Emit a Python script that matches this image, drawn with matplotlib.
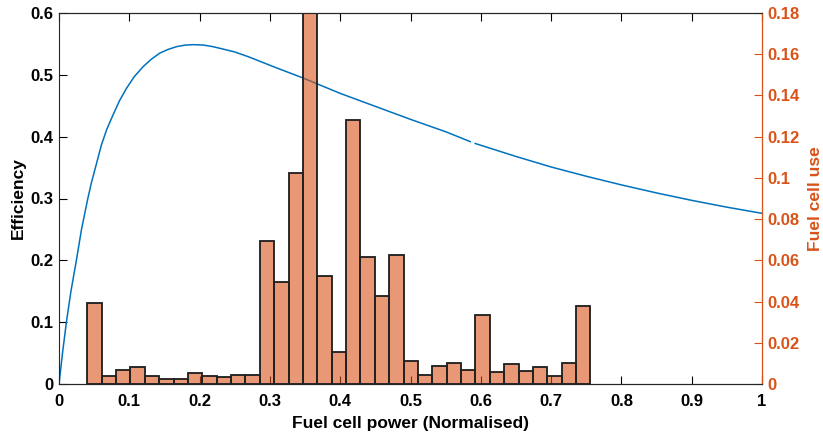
import numpy as np
import matplotlib
matplotlib.use("Agg")
import matplotlib.pyplot as plt

plt.rcParams['font.family'] = ['Liberation Sans', 'DejaVu Sans']
plt.rcParams['font.weight'] = 'bold'

# Efficiency curve
eff_x = [0, 0.005, 0.0105, 0.017, 0.0247, 0.032, 0.041, 0.046, 0.053, 0.0603,
         0.068, 0.0768, 0.086, 0.0959, 0.107, 0.1195, 0.131, 0.1432, 0.155, 0.167,
         0.179, 0.1906, 0.205, 0.217, 0.2286, 0.25, 0.27, 0.29, 0.31, 0.346, 0.40,
         0.45, 0.50, 0.55, 0.585, np.nan, 0.592, 0.65, 0.70, 0.75, 0.80, 0.85,
         0.90, 0.95, 1.00]
eff_y = [0, 0.05, 0.10, 0.15, 0.20, 0.25, 0.30, 0.325, 0.355, 0.3865,
         0.412, 0.435, 0.458, 0.478, 0.497, 0.513, 0.525, 0.535, 0.541, 0.5455,
         0.548, 0.5488, 0.5482, 0.546, 0.543, 0.537, 0.529, 0.520, 0.511, 0.4954, 0.470,
         0.449, 0.428, 0.408, 0.392, np.nan, 0.389, 0.368, 0.351, 0.336, 0.322, 0.309,
         0.297, 0.286, 0.276]

# Fuel cell use histogram
bin_first = 0.0403
bin_last = 0.756
n_bins = 35
use = [0.0393, 0.0040, 0.0068, 0.0084, 0.0040, 0.0026, 0.0025, 0.0055, 0.0040,
       0.0035, 0.0042, 0.0042, 0.0692, 0.0495, 0.1022, 0.19, 0.0526, 0.0155,
       0.1280, 0.0618, 0.0425, 0.0624, 0.0113, 0.0042, 0.0085, 0.0103, 0.0066,
       0.0336, 0.0057, 0.0097, 0.0062, 0.0084, 0.0037, 0.0103, 0.0377]

x_ticks = [0, 0.1, 0.2, 0.3, 0.4, 0.5, 0.6, 0.7, 0.8, 0.9, 1]
x_ticklabels = ['0', '0.1', '0.2', '0.3', '0.4', '0.5', '0.6', '0.7', '0.8', '0.9', '1']
y1_ticks = [0, 0.1, 0.2, 0.3, 0.4, 0.5, 0.6]
y1_ticklabels = ['0', '0.1', '0.2', '0.3', '0.4', '0.5', '0.6']
y2_ticks = [0, 0.02, 0.04, 0.06, 0.08, 0.1, 0.12, 0.14, 0.16, 0.18]
y2_ticklabels = ['0', '0.02', '0.04', '0.06', '0.08', '0.1', '0.12', '0.14', '0.16', '0.18']

blue = '#0072BD'
orange = '#D95319'

W, H = 823, 437
fig = plt.figure(figsize=(W / 100, H / 100), dpi=100)
ax = fig.add_axes([59 / W, (H - 384) / H, (762 - 59) / W, (384 - 13) / H])
ax.plot(eff_x, eff_y, color=blue, lw=1.1)
ax.set_xlim(0, 1)
ax.set_ylim(0, 0.6)
ax.set_xticks(x_ticks)
ax.set_xticklabels(x_ticklabels)
ax.set_yticks(y1_ticks)
ax.set_yticklabels(y1_ticklabels)
ax.tick_params(axis='x', direction='in', length=5.5, width=0.8, labelsize=12,
               top=True, pad=7)
ax.tick_params(axis='y', direction='in', length=5.5, width=0.8, labelsize=12, pad=4)
ax.set_xlabel('Fuel cell power (Normalised)', fontsize=12.5, fontweight='bold', labelpad=5)
ax.set_ylabel('Efficiency', fontsize=12.5, fontweight='bold', labelpad=3)
for s in ax.spines.values():
    s.set_linewidth(0.8)
    s.set_color('#262626')

ax2 = ax.twinx()
edges = np.linspace(bin_first, bin_last, n_bins + 1)
ax2.bar(edges[:-1], use, width=np.diff(edges), align='edge',
        color=orange, alpha=0.6, edgecolor='black', linewidth=1.2)
ax2.bar(edges[:-1], use, width=np.diff(edges), align='edge',
        fill=False, edgecolor='#222222', linewidth=1.2)
ax2.set_ylim(0, 0.18)
ax2.set_yticks(y2_ticks)
ax2.set_yticklabels(y2_ticklabels)
ax2.tick_params(axis='y', direction='in', length=5.5, width=0.8, labelsize=12,
                colors=orange, pad=4)
ax2.set_ylabel('Fuel cell use', fontsize=12.5, fontweight='bold', color=orange, labelpad=6)
ax2.spines['right'].set_color(orange)
ax2.spines['right'].set_linewidth(0.8)
ax2.spines['left'].set_visible(False)
ax2.spines['top'].set_color('#262626')
ax2.spines['top'].set_linewidth(0.8)
ax2.spines['bottom'].set_color('#262626')
ax2.spines['bottom'].set_linewidth(0.8)

fig.savefig('out.png', dpi=100)
